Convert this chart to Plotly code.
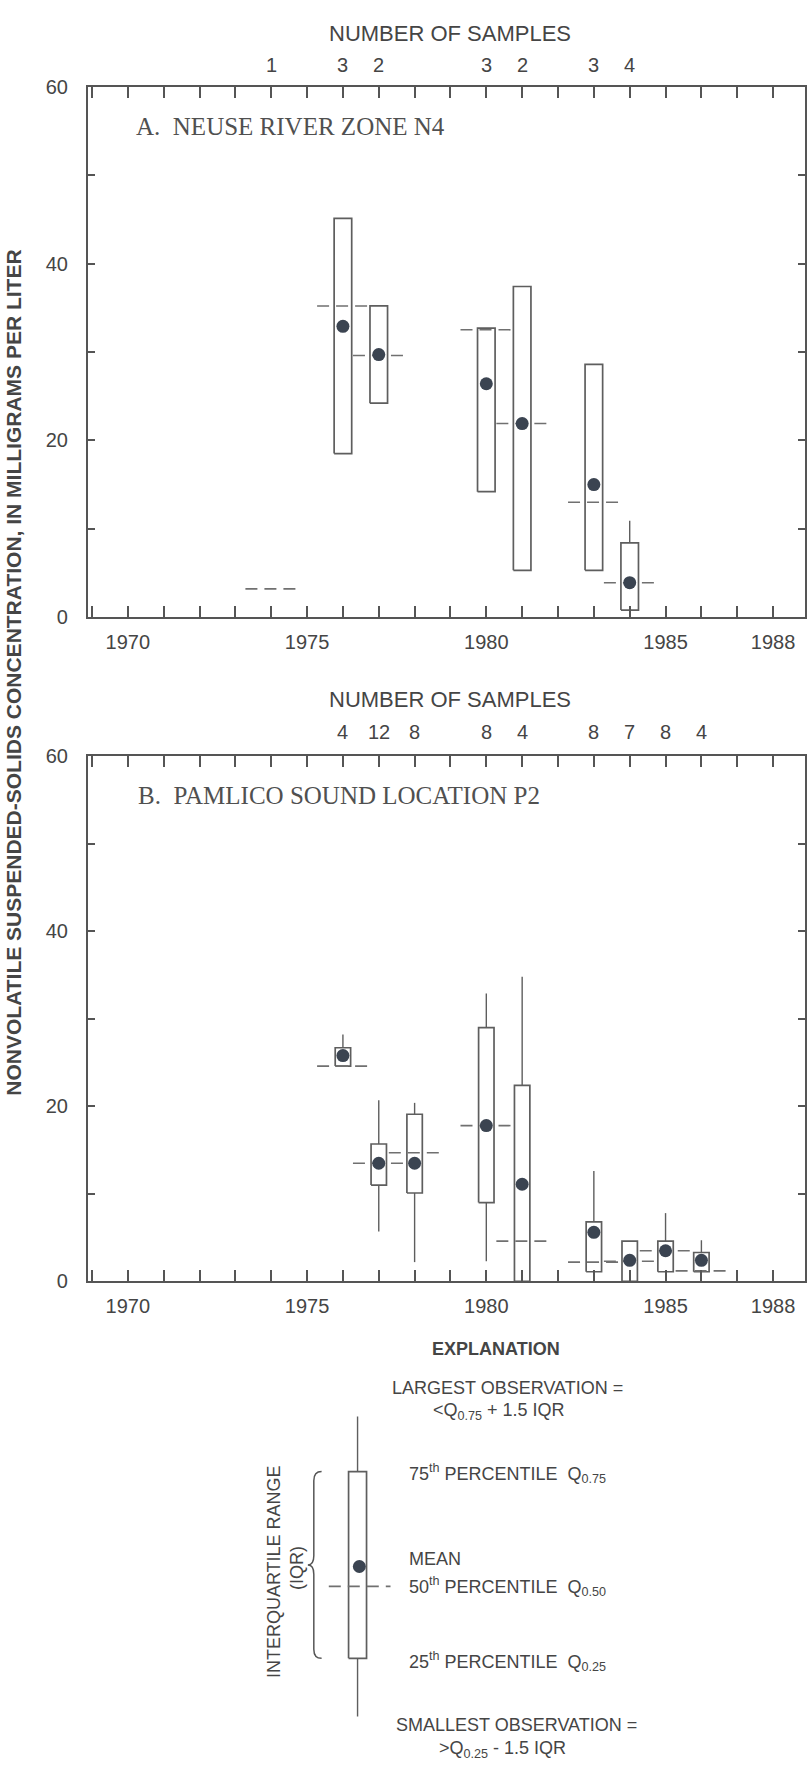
import plotly.graph_objects as go

W, H = 807, 1776

# ---------------- data ----------------
years_a   = [1974, 1976, 1977, 1980, 1981, 1983, 1984]
samples_a = [1, 3, 2, 3, 2, 3, 4]
q1_a      = [None, 18.5, 24.2, 14.2, 5.3, 5.3, 0.8]
median_a  = [3.2, 35.2, 29.6, 32.5, 21.9, 13.0, 3.9]
mean_a    = [None, 32.9, 29.7, 26.4, 21.9, 15.0, 3.9]
q3_a      = [None, 45.1, 35.2, 32.7, 37.4, 28.6, 8.4]
upper_a   = [None, None, None, None, None, None, 10.9]
lower_a   = [None, None, None, None, None, None, None]

years_b   = [1976, 1977, 1978, 1980, 1981, 1983, 1984, 1985, 1986]
samples_b = [4, 12, 8, 8, 4, 8, 7, 8, 4]
q1_b      = [24.6, 11.0, 10.1, 9.0, 0.0, 1.1, 0.0, 1.1, 1.1]
median_b  = [24.6, 13.5, 14.7, 17.8, 4.6, 2.2, 2.3, 3.5, 1.2]
mean_b    = [25.8, 13.5, 13.5, 17.8, 11.1, 5.6, 2.4, 3.5, 2.4]
q3_b      = [26.7, 15.7, 19.1, 29.0, 22.4, 6.8, 4.6, 4.6, 3.3]
upper_b   = [28.2, 20.7, 20.4, 32.9, 34.8, 12.6, None, 7.8, 4.7]
lower_b   = [None, 5.7, 2.2, 2.3, None, None, None, None, None]

x_label_vals = [1970, 1975, 1980, 1985, 1988]
x_minor_step = 1
y_label_vals = [0, 20, 40, 60]
y_minor_step = 10

# explanation diagram example statistics (relative units)
expl_stats = {"low": 1, "q1": 20, "median": 43.5, "mean": 50, "q3": 81, "high": 99}

# ---------------- style ----------------
SANS = "Liberation Sans, Arial, sans-serif"
SERIF = "Liberation Serif, Times New Roman, serif"
TXT = "#454545"
AXC = "#555555"
BOXC = "#5e5e5e"
MEDC = "#707070"
DOTC = "#3b4451"


def py(p):
    return 1 - p / H


def px(p):
    return p / W


XDOM = [px(88), px(806)]
XRANGE = [1968.886, 1988.89]

fig = go.Figure()


def add_panel(xa, ya, years, q1, med, mean, q3, lo, hi, bw):
    bx, by = [], []
    for x, a, b in zip(years, q1, q3):
        if a is None:
            continue
        bx += [x - bw, x + bw, x + bw, x - bw, x - bw, None]
        by += [a, a, b, b, a, None]
    wx, wy = [], []
    for x, a, l in zip(years, q1, lo):
        if l is not None:
            wx += [x, x, None]
            wy += [l, a, None]
    for x, b, h in zip(years, q3, hi):
        if h is not None:
            wx += [x, x, None]
            wy += [b, h, None]
    mx, my = [], []
    for x, m in zip(years, med):
        mx += [x - 0.72, x + 0.72, None]
        my += [m, m, None]
    fig.add_trace(go.Scatter(x=wx, y=wy, xaxis=xa, yaxis=ya, mode="lines",
                             line=dict(color=BOXC, width=1.4), hoverinfo="skip"))
    fig.add_trace(go.Scatter(x=bx, y=by, xaxis=xa, yaxis=ya, mode="lines",
                             line=dict(color=BOXC, width=1.7), hoverinfo="skip"))
    fig.add_trace(go.Scatter(x=mx, y=my, xaxis=xa, yaxis=ya, mode="lines",
                             line=dict(color=MEDC, width=1.6, dash="12px,7px"),
                             hoverinfo="skip"))
    dx = [x for x, m in zip(years, mean) if m is not None]
    dy = [m for m in mean if m is not None]
    fig.add_trace(go.Scatter(x=dx, y=dy, xaxis=xa, yaxis=ya, mode="markers",
                             marker=dict(color=DOTC, size=13), hoverinfo="skip"))


add_panel("x", "y", years_a, q1_a, median_a, mean_a, q3_a, lower_a, upper_a, 0.245)
add_panel("x2", "y2", years_b, q1_b, median_b, mean_b, q3_b, lower_b, upper_b, 0.215)

# ---------------- explanation diagram ----------------
s = expl_stats
ew = 0.15
fig.add_trace(go.Scatter(x=[0, 0, None, 0, 0], y=[s["low"], s["q1"], None, s["q3"], s["high"]],
                         xaxis="x5", yaxis="y5", mode="lines",
                         line=dict(color=BOXC, width=1.4), hoverinfo="skip"))
fig.add_trace(go.Scatter(x=[-ew, ew, ew, -ew, -ew], y=[s["q1"], s["q1"], s["q3"], s["q3"], s["q1"]],
                         xaxis="x5", yaxis="y5", mode="lines",
                         line=dict(color=BOXC, width=1.7), hoverinfo="skip"))
fig.add_trace(go.Scatter(x=[-0.48, 0.55], y=[s["median"], s["median"]],
                         xaxis="x5", yaxis="y5", mode="lines",
                         line=dict(color=MEDC, width=1.6, dash="12px,7px"), hoverinfo="skip"))
fig.add_trace(go.Scatter(x=[0.03], y=[s["mean"]], xaxis="x5", yaxis="y5", mode="markers",
                         marker=dict(color=DOTC, size=13), hoverinfo="skip"))

# curly brace next to the IQR
bq1, bq3 = s["q1"], s["q3"]
bm = (bq1 + bq3) / 2
brace = (f"M -0.60 {bq3} Q -0.73 {bq3} -0.73 {bq3-3} L -0.73 {bm+3} "
         f"Q -0.73 {bm} -0.83 {bm} Q -0.73 {bm} -0.73 {bm-3} "
         f"L -0.73 {bq1+3} Q -0.73 {bq1} -0.60 {bq1}")
fig.add_shape(type="path", path=brace, xref="x5", yref="y5",
              line=dict(color="#555555", width=1.5))


# ---------------- axes ----------------
def xaxis_cfg(anchor):
    return dict(domain=XDOM, anchor=anchor, range=XRANGE,
                tickmode="array", tickvals=x_label_vals,
                ticks="inside", ticklen=11, tickwidth=1.5, tickcolor=AXC,
                minor=dict(tick0=x_label_vals[0], dtick=x_minor_step, ticks="inside",
                           ticklen=11, tickwidth=1.5, tickcolor=AXC, showgrid=False),
                showline=True, linecolor=AXC, linewidth=2, mirror="ticks",
                showgrid=False, zeroline=False,
                tickfont=dict(family=SANS, size=20, color=TXT),
                ticklabelstandoff=6)


def yaxis_cfg(anchor, top_px, bot_px):
    return dict(domain=[py(bot_px), py(top_px)], anchor=anchor, range=[0, 60],
                tickmode="array", tickvals=y_label_vals,
                ticks="inside", ticklen=7, tickwidth=1.5, tickcolor=AXC,
                minor=dict(tick0=0, dtick=y_minor_step, ticks="inside",
                           ticklen=7, tickwidth=1.5, tickcolor=AXC, showgrid=False),
                showline=True, linecolor=AXC, linewidth=2, mirror="ticks",
                showgrid=False, zeroline=False,
                tickfont=dict(family=SANS, size=20, color=TXT),
                ticklabelstandoff=14)


fig.update_layout(
    width=W, height=H,
    margin=dict(l=0, r=0, t=0, b=0),
    paper_bgcolor="white", plot_bgcolor="white",
    showlegend=False,
    xaxis=xaxis_cfg("y"),
    yaxis=yaxis_cfg("x", 76.6, 613.8),
    xaxis2=xaxis_cfg("y2"),
    yaxis2=yaxis_cfg("x2", 754.7, 1286.3),
    xaxis5=dict(domain=[px(298), px(418)], anchor="y5", range=[-1, 1], visible=False),
    yaxis5=dict(domain=[py(1730), py(1420)], anchor="x5", range=[0, 100], visible=False),
)

# number of samples above each panel, placed on the data x axis
for xref, years, samples, ypix in (("x", years_a, samples_a, 55),
                                   ("x2", years_b, samples_b, 730)):
    for yr, n in zip(years, samples):
        fig.add_annotation(text=str(n), x=yr, xref=xref, y=py(ypix), yref="paper",
                           showarrow=False, xanchor="center", yanchor="middle",
                           font=dict(family=SANS, size=20, color=TXT))


# ---------------- text ----------------
def ann(text, x, y, size=18, family=SANS, xanchor="center", angle=None, color=TXT):
    kw = dict(text=text, x=px(x), y=py(y), xref="paper", yref="paper",
              showarrow=False, xanchor=xanchor, yanchor="middle",
              font=dict(family=family, size=size, color=color))
    if angle is not None:
        kw["textangle"] = angle
    fig.add_annotation(**kw)


ann("NUMBER OF SAMPLES", 451, 23, size=22)
ann("NUMBER OF SAMPLES", 451, 697, size=22)
ann("A.  NEUSE RIVER ZONE N4", 134, 116.5, size=25, family=SERIF, xanchor="left", color="#505050")
ann("B.  PAMLICO SOUND LOCATION P2", 136, 794.7, size=25, family=SERIF, xanchor="left", color="#505050")
ann("<b>NONVOLATILE SUSPENDED-SOLIDS CONCENTRATION, IN MILLIGRAMS PER LITER</b>",
    14, 670, size=21, angle=-90)

ann("<b>EXPLANATION</b>", 497, 1355, size=18)
ann("LARGEST OBSERVATION =", 508, 1394, size=18)
ann("&lt;Q<sub>0.75</sub> + 1.5 IQR", 500, 1418, size=18)
ann("75<sup>th</sup> PERCENTILE  Q<sub>0.75</sub>", 408, 1481, size=18, xanchor="left")
ann("MEAN", 408, 1567, size=18, xanchor="left")
ann("50<sup>th</sup> PERCENTILE  Q<sub>0.50</sub>", 408, 1595, size=18, xanchor="left")
ann("25<sup>th</sup> PERCENTILE  Q<sub>0.25</sub>", 408, 1671, size=18, xanchor="left")
ann("SMALLEST OBSERVATION =", 517, 1735, size=18)
ann("&gt;Q<sub>0.25</sub> - 1.5 IQR", 503, 1760, size=18)
ann("INTERQUARTILE RANGE", 275, 1580, size=18, angle=-90)
ann("(IQR)", 298, 1577, size=18, angle=-90)

fig.write_html("out.html")
